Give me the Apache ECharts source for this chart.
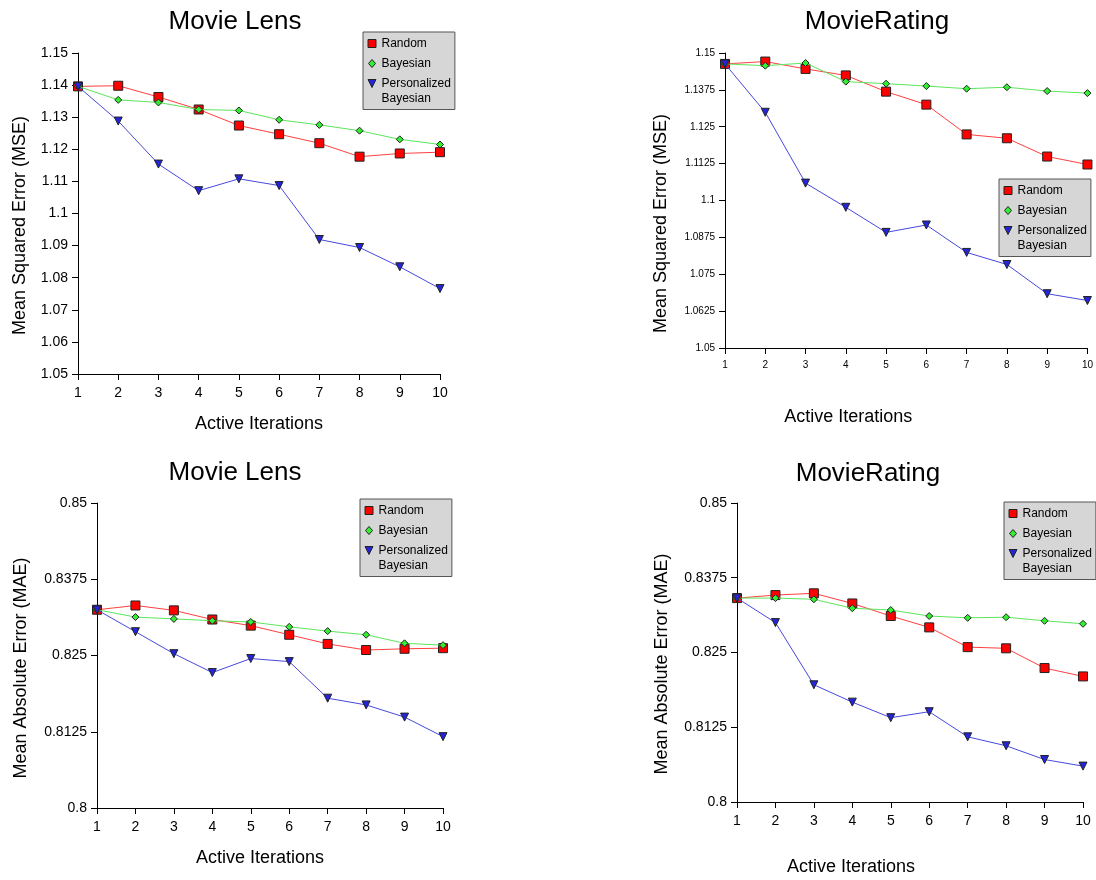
<!DOCTYPE html>
<html>
<head>
<meta charset="utf-8">
<script src="https://cdn.jsdelivr.net/npm/echarts@6/dist/echarts.min.js"></script>
<style>
  html, body { margin: 0; padding: 0; background: #fff; }
  #chart { width: 1096px; height: 880px; }
</style>
</head>
<body>
<div id="chart"></div>
<script>
// ---- Data ----
const iterations = ['1', '2', '3', '4', '5', '6', '7', '8', '9', '10'];
const seriesNames = ['Random', 'Bayesian', 'Personalized Bayesian'];

// Movie Lens - MSE
const mlMseRandom   = [1.1396, 1.1398, 1.1363, 1.1324, 1.1274, 1.1247, 1.1219, 1.1177, 1.1187, 1.1191];
const mlMseBayesian = [1.1396, 1.1354, 1.1346, 1.1324, 1.1321, 1.1292, 1.1276, 1.1258, 1.1231, 1.1215];
const mlMsePersonal = [1.1396, 1.1288, 1.1154, 1.1071, 1.1108, 1.1087, 1.0919, 1.0894, 1.0834, 1.0766];

// MovieRating - MSE
const mrMseRandom   = [1.1463, 1.1471, 1.1446, 1.1424, 1.1369, 1.1325, 1.1224, 1.1211, 1.1149, 1.1122];
const mrMseBayesian = [1.1463, 1.1457, 1.1466, 1.1403, 1.1396, 1.1388, 1.1379, 1.1384, 1.1371, 1.1364];
const mrMsePersonal = [1.1463, 1.1299, 1.1059, 1.0977, 1.0892, 1.0917, 1.0824, 1.0783, 1.0684, 1.0661];

// Movie Lens - MAE
const mlMaeRandom   = [0.8325, 0.8332, 0.8324, 0.8309, 0.8299, 0.8284, 0.8269, 0.8259, 0.8261, 0.8262];
const mlMaeBayesian = [0.8325, 0.8313, 0.8310, 0.8307, 0.8305, 0.8297, 0.8290, 0.8284, 0.8270, 0.8267];
const mlMaePersonal = [0.8325, 0.8289, 0.8253, 0.8222, 0.8245, 0.8240, 0.8180, 0.8169, 0.8149, 0.8117];

// MovieRating - MAE
const mrMaeRandom   = [0.8341, 0.8346, 0.8349, 0.8332, 0.8311, 0.8292, 0.8259, 0.8257, 0.8224, 0.8210];
const mrMaeBayesian = [0.8341, 0.8341, 0.8339, 0.8324, 0.8321, 0.8311, 0.8308, 0.8309, 0.8303, 0.8298];
const mrMaePersonal = [0.8341, 0.8300, 0.8196, 0.8167, 0.8141, 0.8151, 0.8109, 0.8094, 0.8071, 0.8060];

const titles = ['Movie Lens', 'MovieRating', 'Movie Lens', 'MovieRating'];
const yNames = ['Mean Squared Error (MSE)', 'Mean Squared Error (MSE)', 'Mean Absolute Error (MAE)', 'Mean Absolute Error (MAE)'];
const xName = 'Active Iterations';
const yRanges = [[1.05, 1.15, 0.01], [1.05, 1.15, 0.0125], [0.8, 0.85, 0.0125], [0.8, 0.85, 0.0125]];
const panelData = [
  [mlMseRandom, mlMseBayesian, mlMsePersonal],
  [mrMseRandom, mrMseBayesian, mrMsePersonal],
  [mlMaeRandom, mlMaeBayesian, mlMaePersonal],
  [mrMaeRandom, mrMaeBayesian, mrMaePersonal]
];

// ---- Layout (pixels) ----
const FONT = '"Liberation Sans", Arial, Helvetica, sans-serif';
const layout = [
  { grid: {left: 78, top: 53, width: 362, height: 321}, title: {x: 230, y: 4}, tick: 14,
    legend: {left: 363, top: 32}, xGap: 41, xPad: 0, yGap: 49, yPad: 24 },
  { grid: {left: 725, top: 53, width: 364, height: 295}, title: {x: 872, y: 4}, tick: 10,
    legend: {left: 999, top: 179}, xGap: 60, xPad: 116, yGap: 55, yPad: 46 },
  { grid: {left: 97, top: 503, width: 346, height: 305}, title: {x: 230, y: 455}, tick: 14,
    legend: {left: 360, top: 499}, xGap: 41, xPad: 20, yGap: 67, yPad: 25 },
  { grid: {left: 737, top: 503, width: 346, height: 299}, title: {x: 863, y: 456}, tick: 14,
    legend: {left: 1004, top: 502}, xGap: 56, xPad: 118, yGap: 66, yPad: 23 }
];

// legend icons: 9x45 frame (anchors at corners), glyph centred on the first text line
const FRAME = 'M0,0L0,0M9,45L9,45';
const styles = [
  { symbol: 'rect', size: 9, rotate: 0, fill: '#ff0000', line: '#ff4040',
    icon: 'path://' + FRAME + 'M0.5,18.5L8.5,18.5L8.5,26.5L0.5,26.5Z' },
  { symbol: 'diamond', size: 7, rotate: 0, fill: '#33ee33', line: '#5ce65c',
    icon: 'path://' + FRAME + 'M4.5,18.5L8,22.5L4.5,26.5L1,22.5Z' },
  { symbol: 'triangle', size: 8, rotate: 180, fill: '#2424d8', line: '#4848dd',
    icon: 'path://' + FRAME + 'M0.5,18.5L8.5,18.5L4.5,26.5Z' }
];

const option = {
  animation: false,
  backgroundColor: '#ffffff',
  textStyle: { fontFamily: FONT },
  title: [], legend: [], grid: [], xAxis: [], yAxis: [], series: []
};

layout.forEach((L, i) => {
  option.title.push({
    text: titles[i], left: L.title.x, top: L.title.y, textAlign: 'center',
    textStyle: { fontFamily: FONT, fontSize: 26, fontWeight: 'normal', color: '#000' }
  });
  option.grid.push(Object.assign({}, L.grid));
  option.legend.push({
    left: L.legend.left, top: L.legend.top, orient: 'vertical',
    data: seriesNames.map((n, k) => ({ name: n, icon: styles[k].icon, symbolRotate: 0,
        itemStyle: { color: styles[k].fill, borderColor: '#222', borderWidth: 1 } })),
    // the long name wraps onto two lines; a leading blank line keeps its icon level with "Personalized"
    formatter: n => n === 'Personalized Bayesian' ? '\nPersonalized\nBayesian' : n,
    backgroundColor: '#d6d6d6', borderColor: '#555', borderWidth: 1, borderRadius: 0,
    padding: [-11.5, 4, 3, 4], itemGap: -26, itemWidth: 9, itemHeight: 45,
    symbolKeepAspect: true,
    textStyle: { fontFamily: FONT, fontSize: 12, color: '#000', lineHeight: 15 },
    selectedMode: false
  });
  option.xAxis.push({
    type: 'category', gridIndex: i, data: iterations, boundaryGap: false,
    name: xName, nameLocation: 'middle', nameGap: L.xGap,
    nameTextStyle: { fontFamily: FONT, fontSize: 18, color: '#000', padding: [0, L.xPad, 0, 0] },
    axisLine: { lineStyle: { color: '#000', width: 1 } },
    axisTick: { show: true, length: 6, alignWithLabel: true, lineStyle: { color: '#000' } },
    axisLabel: { fontFamily: FONT, fontSize: L.tick, color: '#000', margin: 12, interval: 0 },
    splitLine: { show: false }
  });
  option.yAxis.push({
    type: 'value', gridIndex: i, min: yRanges[i][0], max: yRanges[i][1], interval: yRanges[i][2],
    name: yNames[i], nameLocation: 'middle', nameGap: L.yGap, nameRotate: 90,
    nameTextStyle: { fontFamily: FONT, fontSize: 18, color: '#000', padding: [0, L.yPad, 0, 0] },
    axisLine: { show: true, lineStyle: { color: '#000', width: 1 } },
    axisTick: { show: true, length: 6, lineStyle: { color: '#000' } },
    axisLabel: { fontFamily: FONT, fontSize: L.tick, color: '#000', margin: 10 },
    splitLine: { show: false }
  });
  panelData[i].forEach((vals, k) => {
    const s = styles[k];
    option.series.push({
      name: seriesNames[k], type: 'line', xAxisIndex: i, yAxisIndex: i,
      data: vals, symbol: s.symbol, symbolSize: s.size, symbolRotate: s.rotate,
      showAllSymbol: true,
      lineStyle: { color: s.line, width: 1 },
      itemStyle: { color: s.fill, borderColor: '#222', borderWidth: 1 },
      z: 2 + k
    });
  });
});

const chart = echarts.init(document.getElementById('chart'), null, { renderer: 'canvas' });
chart.setOption(option);
</script>
</body>
</html>
